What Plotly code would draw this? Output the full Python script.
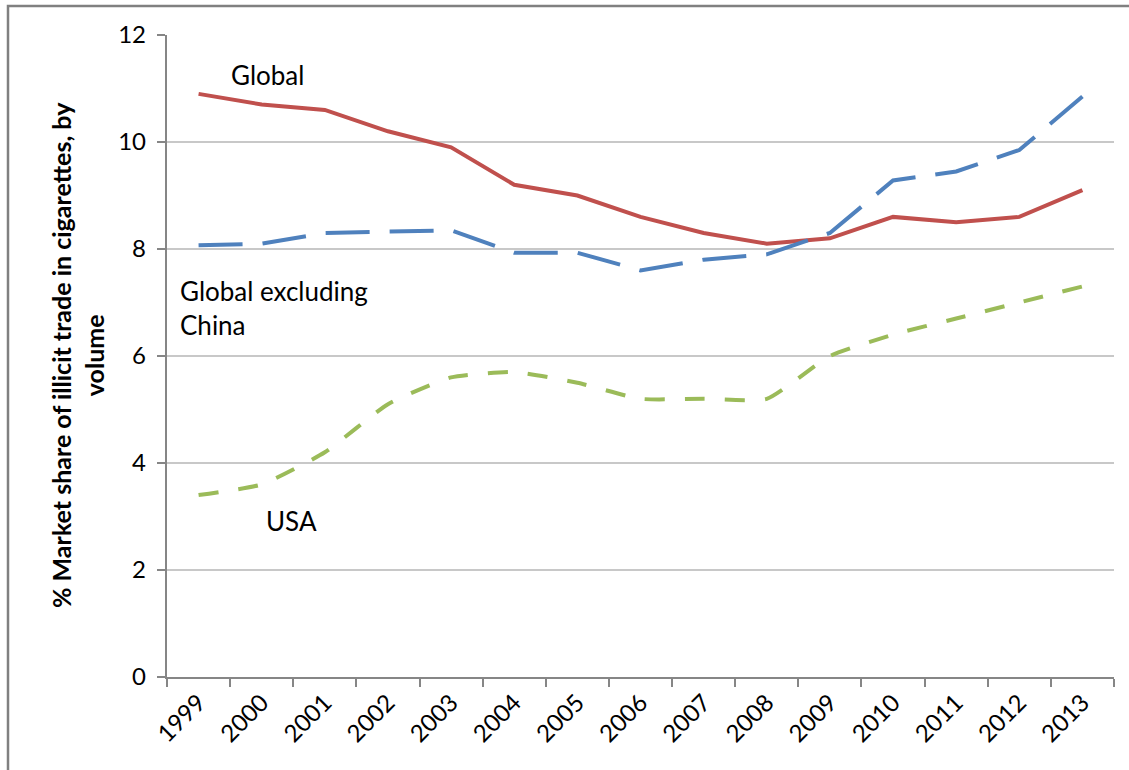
import plotly.graph_objects as go

years = [str(y) for y in range(1999, 2014)]
global_share = [10.9, 10.7, 10.6, 10.2, 9.9, 9.2, 9.0, 8.6, 8.3, 8.1, 8.2, 8.6, 8.5, 8.6, 9.1]
global_ex_china = [8.07, 8.1, 8.3, 8.32, 8.35, 7.93, 7.93, 7.6, 7.8, 7.9, 8.3, 9.28, 9.45, 9.85, 10.85]
usa_share = [3.4, 3.6, 4.2, 5.1, 5.6, 5.7, 5.5, 5.2, 5.2, 5.2, 6.0, 6.4, 6.7, 7.0, 7.3]

FONT = "Lato"
W, H = 1129, 770
L, T = 167, 35
R = W - 1114
B = H - 677
PW = W - L - R
PH = H - T - B

def px(x):
    return (x - L) / PW

def py(y):
    return (H - B - y) / PH

fig = go.Figure()
fig.add_trace(go.Scatter(x=years, y=global_share, mode="lines", name="Global",
                         line=dict(color="#C0504D", width=4)))
fig.add_trace(go.Scatter(x=years, y=global_ex_china, mode="lines", name="Global excluding China",
                         line=dict(color="#4F81BD", width=4, dash="44px,20px")))
fig.add_trace(go.Scatter(x=years, y=usa_share, mode="lines", name="USA",
                         line=dict(color="#9BBB59", width=4, dash="20px,20px", shape="spline", smoothing=0.5)))

fig.update_layout(
    width=W, height=H,
    margin=dict(l=L, r=R, t=T, b=B, autoexpand=False),
    paper_bgcolor="white", plot_bgcolor="white",
    showlegend=False,
    font=dict(family=FONT, color="black", size=24),
)
fig.update_xaxes(type="category", range=[-0.5, len(years) - 0.5],
                 showline=True, linecolor="#868686", linewidth=2,
                 ticks="outside", tickson="boundaries", ticklen=8, tickcolor="#868686", tickwidth=2,
                 tickangle=-45, tickfont=dict(size=24, family=FONT), showgrid=False, automargin=False)
fig.update_yaxes(range=[0, 12], dtick=2, showline=True, linecolor="#868686", linewidth=2,
                 ticks="outside", ticklen=8, tickcolor="#868686", tickwidth=2,
                 gridcolor="#C8C8C8", gridwidth=1.5, zeroline=False, automargin=False,
                 tickfont=dict(size=24, family=FONT), ticksuffix=" ")

# y-axis title
fig.add_annotation(text="<b>% Market share of illicit trade in cigarettes, by</b><br><b>volume</b>",
                   xref="paper", yref="paper", x=px(77), y=py(355), textangle=-90,
                   showarrow=False, font=dict(size=25, family=FONT), xanchor="center", yanchor="middle")

fig.add_annotation(text="Global", xref="paper", yref="paper", x=px(229), y=py(75),
                   xanchor="left", yanchor="middle", showarrow=False, font=dict(size=26, family=FONT))
fig.add_annotation(text="Global excluding<br>China", xref="paper", yref="paper", x=px(178), y=py(308),
                   xanchor="left", yanchor="middle", align="left", showarrow=False,
                   font=dict(size=26, family=FONT))
fig.add_annotation(text="USA", xref="paper", yref="paper", x=px(264), y=py(521),
                   xanchor="left", yanchor="middle", showarrow=False, font=dict(size=26, family=FONT))

# outer chart frame (left and top edges visible)
fig.add_shape(type="rect", xref="paper", yref="paper", x0=px(8), x1=px(1160), y0=py(800), y1=py(6),
              line=dict(color="#808080", width=2.5), fillcolor="rgba(0,0,0,0)", layer="above")

fig.write_html("out.html", config={"displayModeBar": False},
               post_script="document.body.style.margin='0';")
